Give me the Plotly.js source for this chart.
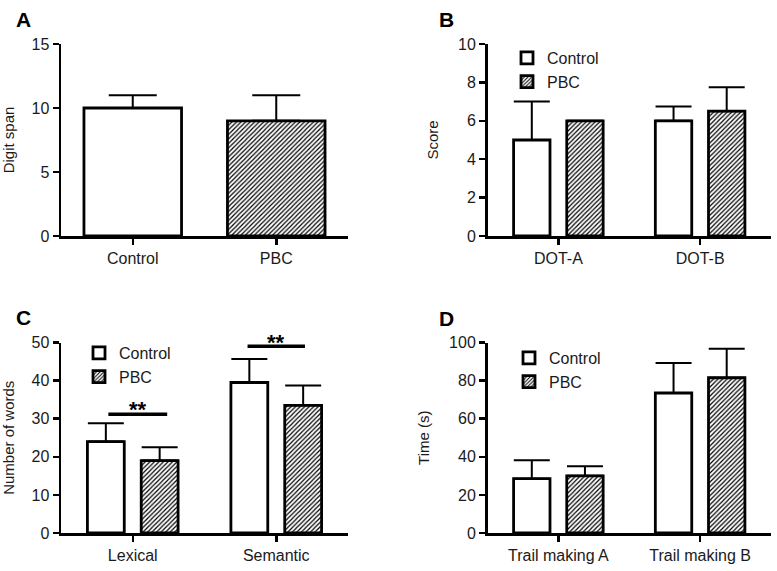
<!DOCTYPE html>
<html>
<head>
<meta charset="utf-8">
<script src="https://cdn.plot.ly/plotly-3.0.1.min.js"></script>
<style>html,body{margin:0;padding:0;background:#fff;}#chart{width:777px;height:571px;}</style>
</head>
<body>
<div id="chart"></div>
<script>
// ---- Data ----
const groupNames = ['Control', 'PBC'];

// Panel A: digit span
const catsA = ['Control', 'PBC'];
const valsA = [10, 9];
const errA = [1, 2];

// Panel B: score
const catsB = ['DOT-A', 'DOT-B'];
const ctrlB = [5, 6];
const ctrlErrB = [2, 0.75];
const pbcB = [6, 6.5];
const pbcErrB = [0, 1.25];

// Panel C: number of words
const catsC = ['Lexical', 'Semantic'];
const ctrlC = [24, 39.5];
const ctrlErrC = [4.8, 6.2];
const pbcC = [19, 33.5];
const pbcErrC = [3.5, 5.2];
const sigX0 = [-0.17, 0.80];
const sigX1 = [0.24, 1.20];
const sigY = [31.2, 49.0];
const sigLabel = ['**', '**'];

// Panel D: time (s)
const catsD = ['Trail making A', 'Trail making B'];
const ctrlD = [28.5, 73.5];
const ctrlErrD = [9.7, 15.8];
const pbcD = [30, 81.5];
const pbcErrD = [5, 15.2];

// ---- Styling ----
const FONT = 'Liberation Sans, Arial, sans-serif';
const TXT = '#1a1a1a';
const hatch = {shape: '/', fgcolor: '#000', bgcolor: '#fff', size: 3.2, solidity: 0.38, fillmode: 'replace'};
const plain = {shape: '', fgcolor: '#000', bgcolor: '#fff'};

function errBar(arr, w) {
  return {type: 'data', symmetric: false, array: arr, arrayminus: arr.map(() => 0),
          color: '#000', thickness: 2, width: w, visible: true};
}
function barTrace(x, y, err, name, isPBC, xa, ya, legend, showlegend) {
  return {
    type: 'bar', x: x, y: y, name: name, xaxis: xa, yaxis: ya,
    legend: legend, showlegend: showlegend,
    marker: {color: '#fff', line: {color: '#000', width: 2.8}, pattern: isPBC ? hatch : plain},
    error_y: errBar(err, 18), hoverinfo: 'none'
  };
}

const traces = [
  {
    type: 'bar', x: catsA, y: valsA, xaxis: 'x', yaxis: 'y', showlegend: false, width: 0.68,
    marker: {color: '#fff', line: {color: '#000', width: 2.8},
             pattern: Object.assign({}, hatch, {shape: ['', '/']})},
    error_y: errBar(errA, 24), hoverinfo: 'none'
  },
  barTrace(catsB, ctrlB, ctrlErrB, groupNames[0], false, 'x2', 'y2', 'legend', true),
  barTrace(catsB, pbcB, pbcErrB, groupNames[1], true, 'x2', 'y2', 'legend', true),
  barTrace(catsC, ctrlC, ctrlErrC, groupNames[0], false, 'x3', 'y3', 'legend2', true),
  barTrace(catsC, pbcC, pbcErrC, groupNames[1], true, 'x3', 'y3', 'legend2', true),
  barTrace(catsD, ctrlD, ctrlErrD, groupNames[0], false, 'x4', 'y4', 'legend3', true),
  barTrace(catsD, pbcD, pbcErrD, groupNames[1], true, 'x4', 'y4', 'legend3', true)
];

const W = 777, H = 571;
const px = v => v / W;
const py = v => 1 - v / H;

function xax(domain, anchor) {
  return {domain: domain, anchor: anchor, type: 'category', range: [-0.5, 1.5],
    showline: true, linecolor: '#000', linewidth: 2.5, ticks: 'outside', ticklen: 6,
    tickwidth: 2.5, tickcolor: '#000', showgrid: false, zeroline: false, fixedrange: true,
    tickfont: {family: FONT, size: 16, color: TXT}};
}
function yax(domain, anchor, range, dtick, title) {
  return {domain: domain, anchor: anchor, range: range, dtick: dtick, tick0: 0,
    showline: true, linecolor: '#000', linewidth: 2.5, ticks: 'outside', ticklen: 6,
    tickwidth: 2.5, tickcolor: '#000', showgrid: false, zeroline: false, fixedrange: true,
    tickfont: {family: FONT, size: 16, color: TXT},
    title: {text: title, font: {family: FONT, size: 15, color: TXT}, standoff: 16}};
}

const dxL = [px(61), px(348)];
const dxR = [px(487.5), px(771)];
const dyT = [py(236), py(44)];
const dyB = [py(533), py(342.5)];
const rangeC = [0, 50];

const legendBase = {font: {family: FONT, size: 16, color: TXT}, bgcolor: 'rgba(0,0,0,0)',
  xanchor: 'left', yanchor: 'top', tracegroupgap: 0, itemclick: false, itemdoubleclick: false};

const shapes = sigY.map((y, i) => ({type: 'line', xref: 'x3', yref: 'y3',
  x0: sigX0[i], x1: sigX1[i], y0: y, y1: y, line: {color: '#000', width: 3.5}}));

// significance labels placed in paper coords so they may sit above the plot area
const toPaperC = v => dyB[0] + (v - rangeC[0]) / (rangeC[1] - rangeC[0]) * (dyB[1] - dyB[0]);

const annotations = [
  ...sigY.map((y, i) => ({xref: 'x3', yref: 'paper', x: (sigX0[i] + sigX1[i]) / 2, y: toPaperC(y + 1.1),
    text: sigLabel[i], showarrow: false, xanchor: 'center', yanchor: 'middle',
    font: {family: FONT, size: 22, color: '#000', weight: 'bold'}})),
  ...[['A', 14, 19.5], ['B', 437, 19.5], ['C', 14, 317], ['D', 437, 318]].map(([t, x, y]) => ({
    xref: 'paper', yref: 'paper', x: px(x), y: py(y), xanchor: 'left', yanchor: 'middle',
    text: '<b>' + t + '</b>', showarrow: false, font: {family: FONT, size: 21, color: '#000'}}))
];

const layout = {
  width: W, height: H, margin: {l: 0, r: 0, t: 0, b: 0},
  paper_bgcolor: '#fff', plot_bgcolor: 'rgba(0,0,0,0)',
  barmode: 'group', bargap: 0.25, bargroupgap: 0.315,
  xaxis: xax(dxL, 'y'), yaxis: yax(dyT, 'x', [0, 15], 5, 'Digit span'),
  xaxis2: xax(dxR, 'y2'), yaxis2: yax(dyT, 'x2', [0, 10], 2, 'Score'),
  xaxis3: xax(dxL, 'y3'), yaxis3: yax(dyB, 'x3', rangeC, 10, 'Number of words'),
  xaxis4: xax(dxR, 'y4'), yaxis4: yax(dyB, 'x4', [0, 100], 20, 'Time (s)'),
  legend: Object.assign({x: px(507), y: py(41)}, legendBase),
  legend2: Object.assign({x: px(79), y: py(336)}, legendBase),
  legend3: Object.assign({x: px(509), y: py(341)}, legendBase),
  shapes: shapes,
  annotations: annotations,
  showlegend: true
};

Plotly.newPlot('chart', traces, layout, {displayModeBar: false, staticPlot: true});
</script>
</body>
</html>
